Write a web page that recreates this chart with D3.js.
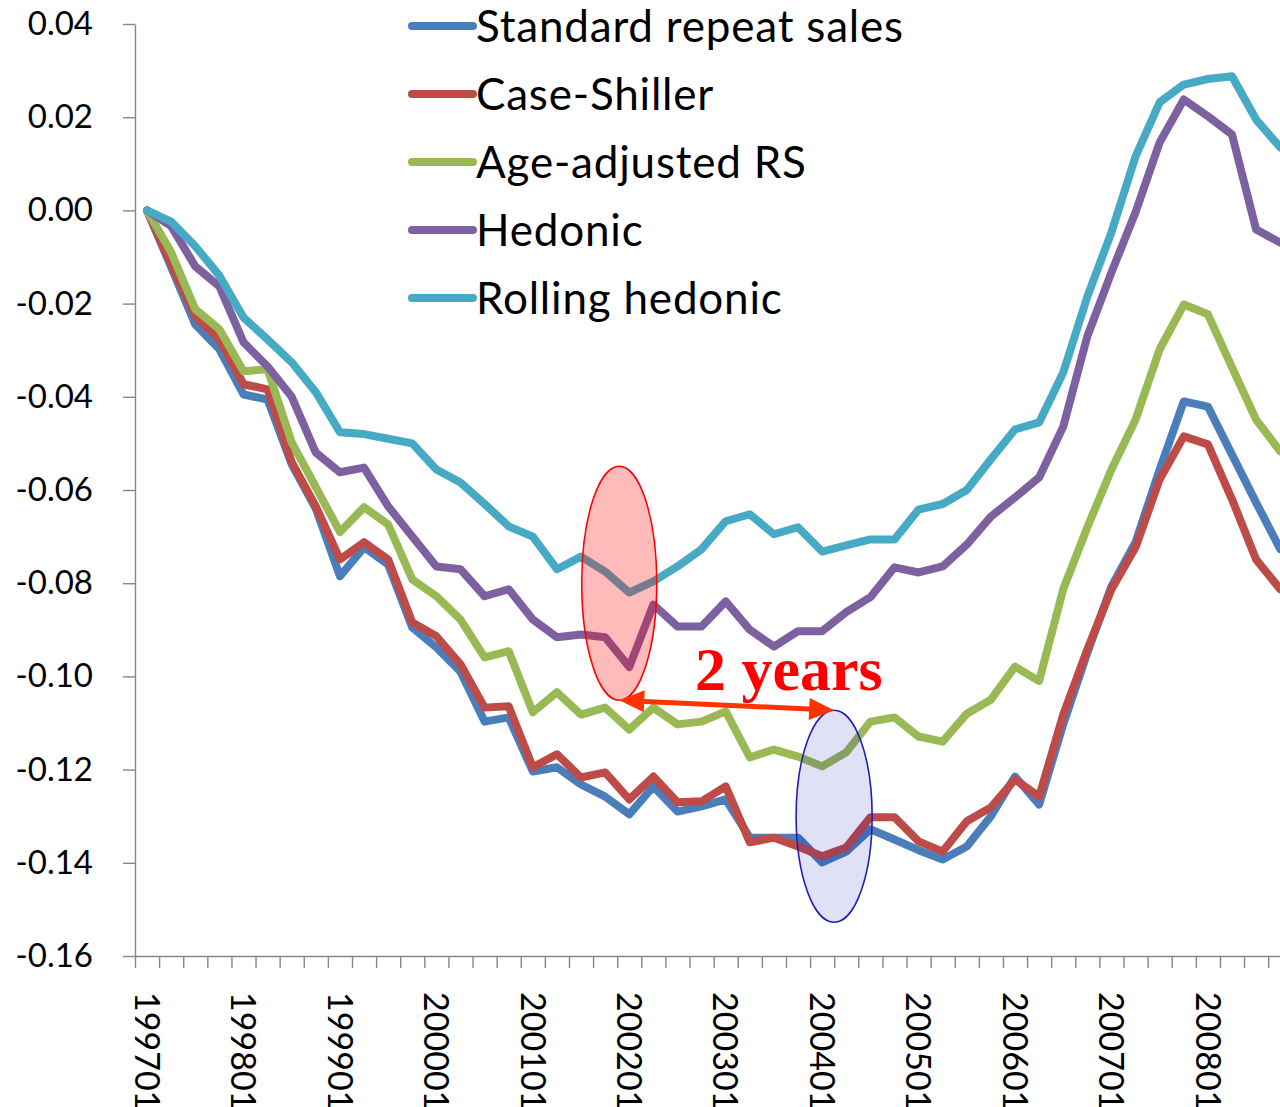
<!DOCTYPE html>
<html lang="en">
<head>
  <meta charset="UTF-8">
  <title>House price indexes</title>
  <style>
    body { margin: 0; background: #fff; }
    svg { display: block; font-family: Lato, "Open Sans", sans-serif; }
    .axis path, .axis line { stroke: #878787; stroke-width: 1.4; }
    .series { fill: none; stroke-width: 8; stroke-linejoin: round; stroke-linecap: round; }
  </style>
</head>
<body>
  <div id="chart"></div>
  <script src="https://d3js.org/d3.v7.min.js"></script>
  <script>
    // quarters, 1997Q1 .. 2008Q4
    const quarters = [
      '199701', '199702', '199703', '199704', '199801', '199802', '199803', '199804',
      '199901', '199902', '199903', '199904', '200001', '200002', '200003', '200004',
      '200101', '200102', '200103', '200104', '200201', '200202', '200203', '200204',
      '200301', '200302', '200303', '200304', '200401', '200402', '200403', '200404',
      '200501', '200502', '200503', '200504', '200601', '200602', '200603', '200604',
      '200701', '200702', '200703', '200704', '200801', '200802', '200803', '200804'
    ]

    const seriesNames = ['Standard repeat sales', 'Case-Shiller', 'Age-adjusted RS', 'Hedonic', 'Rolling hedonic']
    const seriesColors = ['#4a7ebb', '#be4b48', '#98b954', '#7d60a0', '#46aac5']

    const standardRS = [
      0, -0.0122, -0.0245, -0.0298, -0.0395, -0.0406, -0.0545, -0.0640,
      -0.0785, -0.0723, -0.0760, -0.0895, -0.0938, -0.0990, -0.1097, -0.1088,
      -0.1204, -0.1195, -0.1232, -0.1258, -0.1296, -0.1236, -0.1290, -0.1279,
      -0.1264, -0.1346, -0.1346, -0.1346, -0.1399, -0.1376, -0.1328, -0.1350,
      -0.1373, -0.1393, -0.1365, -0.1300, -0.1215, -0.1275, -0.1103, -0.0949,
      -0.0807, -0.0712, -0.0556, -0.0410, -0.0421, -0.0524, -0.0627, -0.0727
    ]
    const caseShiller = [
      0, -0.0116, -0.0227, -0.0277, -0.0373, -0.0384, -0.0540, -0.0635,
      -0.0749, -0.0712, -0.0749, -0.0884, -0.0914, -0.0974, -0.1067, -0.1064,
      -0.1195, -0.1167, -0.1217, -0.1206, -0.1264, -0.1215, -0.1270, -0.1268,
      -0.1236, -0.1356, -0.1346, -0.1365, -0.1386, -0.1367, -0.1302, -0.1302,
      -0.1354, -0.1376, -0.1311, -0.1281, -0.1221, -0.1258, -0.1082, -0.0942,
      -0.0813, -0.0723, -0.0577, -0.0485, -0.0502, -0.0620, -0.0749, -0.0813
    ]
    const ageAdjusted = [
      0, -0.0090, -0.0212, -0.0255, -0.0345, -0.0341, -0.0498, -0.0594,
      -0.0690, -0.0637, -0.0674, -0.0792, -0.0828, -0.0878, -0.0959, -0.0946,
      -0.1077, -0.1034, -0.1082, -0.1067, -0.1114, -0.1067, -0.1103, -0.1097,
      -0.1075, -0.1174, -0.1157, -0.1172, -0.1193, -0.1163, -0.1097, -0.1088,
      -0.1129, -0.1140, -0.1080, -0.1050, -0.0979, -0.1010, -0.0813, -0.0680,
      -0.0556, -0.0449, -0.0298, -0.0202, -0.0223, -0.0337, -0.0449, -0.0517
    ]
    const hedonic = [
      0, -0.0034, -0.0120, -0.0163, -0.0283, -0.0335, -0.0400, -0.0520,
      -0.0562, -0.0552, -0.0635, -0.0700, -0.0764, -0.0770, -0.0828, -0.0813,
      -0.0878, -0.0916, -0.0910, -0.0916, -0.0980, -0.0846, -0.0893, -0.0893,
      -0.0839, -0.0900, -0.0936, -0.0903, -0.0903, -0.0862, -0.0830, -0.0766,
      -0.0777, -0.0764, -0.0717, -0.0657, -0.0616, -0.0573, -0.0464, -0.0270,
      -0.0133, -0.0004, 0.0146, 0.0238, 0.0202, 0.0163, -0.0041, -0.0069
    ]
    const rollingHedonic = [
      0, -0.0024, -0.0077, -0.0140, -0.0230, -0.0277, -0.0326, -0.0390,
      -0.0476, -0.0480, -0.0490, -0.0500, -0.0556, -0.0584, -0.0630, -0.0678,
      -0.0700, -0.0770, -0.0743, -0.0775, -0.0820, -0.0796, -0.0764, -0.0727,
      -0.0667, -0.0652, -0.0695, -0.0680, -0.0732, -0.0719, -0.0706, -0.0706,
      -0.0642, -0.0630, -0.0600, -0.0534, -0.0470, -0.0455, -0.0348, -0.0185,
      -0.0047, 0.0116, 0.0232, 0.0270, 0.0282, 0.0288, 0.0195, 0.0135
    ]

    const yTicks = [-0.16, -0.14, -0.12, -0.10, -0.08, -0.06, -0.04, -0.02, 0.00, 0.02, 0.04]

    const allSeries = [standardRS, caseShiller, ageAdjusted, hedonic, rollingHedonic]

    let W = 1280, H = 1107
    let mLeft = 135, mTop = 24, mBottom = 956
    let step = 24.11

    let svg = d3.select('#chart').append('svg')
      .attr('width', W)
      .attr('height', H)

    let x = d3.scaleBand()
      .domain(quarters)
      .range([mLeft, mLeft + quarters.length * step])
    let xc = q => x(q) + x.bandwidth() / 2

    let y = d3.scaleLinear()
      .domain([-0.16, 0.04])
      .range([mBottom, mTop])

    // y axis
    svg.append('g')
      .attr('class', 'axis')
      .attr('transform', `translate(${mLeft},0)`)
      .call(d3.axisLeft(y)
        .tickValues(yTicks)
        .tickSize(12)
        .tickSizeOuter(0)
        .tickPadding(30)
        .tickFormat(d => Math.abs(d) < 1e-9 ? '0.00' : d.toFixed(2)))
      .call(g => g.selectAll('text')
        .attr('font-size', 33)
        .attr('font-family', 'Lato, sans-serif')
        .attr('fill', '#000'))

    // x axis: tick marks sit between categories
    let xb = d3.scaleLinear()
      .domain([0, quarters.length])
      .range(x.range())
    svg.append('g')
      .attr('class', 'axis')
      .attr('transform', `translate(0,${mBottom})`)
      .call(d3.axisBottom(xb)
        .tickValues(d3.range(quarters.length + 1))
        .tickSize(12)
        .tickSizeOuter(0)
        .tickFormat(''))

    // x labels, every fourth quarter, reading downwards (run off the bottom as in the original)
    svg.append('g')
      .selectAll('text')
      .data(quarters.filter((q, i) => i % 4 == 0))
      .enter()
      .append('text')
      .attr('transform', d => `translate(${xc(d)},992) rotate(90)`)
      .attr('dy', '0.36em')
      .attr('font-size', 34)
      .attr('fill', '#000')
      .text(d => d)

    // lines
    let line = d3.line()
      .x((d, i) => xc(quarters[i]))
      .y(d => y(d))

    svg.append('g')
      .selectAll('path')
      .data(allSeries)
      .enter()
      .append('path')
      .attr('class', 'series')
      .attr('stroke', (d, i) => seriesColors[i])
      .attr('d', d => line(d))

    // legend
    let legend = svg.append('g')
    let legendRows = legend.selectAll('g')
      .data(seriesNames)
      .enter()
      .append('g')
      .attr('transform', (d, i) => `translate(412,${26 + i * 68})`)
    legendRows.append('line')
      .attr('x1', 0).attr('x2', 61)
      .attr('stroke', (d, i) => seriesColors[i])
      .attr('stroke-width', 8)
      .attr('stroke-linecap', 'round')
    legendRows.append('text')
      .attr('x', 64)
      .attr('dy', '0.36em')
      .attr('font-size', 44)
      .attr('letter-spacing', 0.8)
      .attr('fill', '#000')
      .text(d => d)

    // annotation: the two troughs
    let redE = { cx: xc(quarters[20]) - 10, cy: y(-0.08), rx: 37.5, ry: 117 }
    let blueE = { cx: xc(quarters[28]) + 12, cy: y(-0.13), rx: 38, ry: 106 }

    svg.append('ellipse')
      .attr('cx', redE.cx).attr('cy', redE.cy)
      .attr('rx', redE.rx).attr('ry', redE.ry)
      .attr('fill', 'rgba(255,0,0,0.27)')
      .attr('stroke', '#ff0000')
      .attr('stroke-width', 1.6)

    svg.append('ellipse')
      .attr('cx', blueE.cx).attr('cy', blueE.cy)
      .attr('rx', blueE.rx).attr('ry', blueE.ry)
      .attr('fill', 'rgba(0,0,190,0.12)')
      .attr('stroke', '#2020b0')
      .attr('stroke-width', 1.6)

    // double arrow from bottom of red ellipse to top of blue one
    let p1 = [redE.cx, redE.cy + redE.ry]
    let p2 = [blueE.cx, blueE.cy - blueE.ry]
    let ang = Math.atan2(p2[1] - p1[1], p2[0] - p1[0])
    let headLen = 25, headHalf = 11
    let ux = Math.cos(ang), uy = Math.sin(ang)
    let arrowColor = '#ff3300'

    svg.append('line')
      .attr('x1', p1[0] + ux * 20).attr('y1', p1[1] + uy * 20)
      .attr('x2', p2[0] - ux * 20).attr('y2', p2[1] - uy * 20)
      .attr('stroke', arrowColor)
      .attr('stroke-width', 5)

    function head(tip, dir) {
      let bx = tip[0] - dir * ux * headLen, by = tip[1] - dir * uy * headLen
      let pts = [
        tip,
        [bx - uy * headHalf, by + ux * headHalf],
        [bx + uy * headHalf, by - ux * headHalf]
      ]
      svg.append('polygon')
        .attr('points', pts.map(p => p.join(',')).join(' '))
        .attr('fill', arrowColor)
    }
    head(p1, -1)
    head(p2, 1)

    svg.append('text')
      .attr('x', 695)
      .attr('y', 690)
      .attr('font-family', '"Liberation Serif", "Times New Roman", serif')
      .attr('font-weight', 'bold')
      .attr('font-size', 62)
      .attr('fill', '#ff0000')
      .text('2 years')
  </script>
</body>
</html>
